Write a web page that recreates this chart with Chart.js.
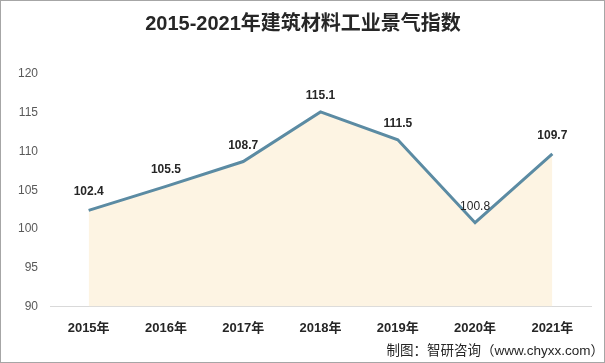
<!DOCTYPE html>
<html>
<head>
<meta charset="utf-8">
<script src="https://cdn.jsdelivr.net/npm/chart.js@4"></script>
<style>
html,body{margin:0;padding:0;background:#fff;}
#wrap{position:relative;width:605px;height:363px;box-sizing:border-box;border:1px solid #a6a6a6;}
canvas{display:block;}
</style>
</head>
<body>
<div id="wrap"><canvas id="c" width="603" height="361"></canvas></div>
<script>
const categories = ["2015年","2016年","2017年","2018年","2019年","2020年","2021年"];
const values = [102.4, 105.5, 108.7, 115.1, 111.5, 100.8, 109.7];
const yTicks = [90, 95, 100, 105, 110, 115, 120];
const titleText = "2015-2021年建筑材料工业景气指数";
const sourceText = "制图：智研咨询（www.chyxx.com）";

const FONT = '"Liberation Sans", "Noto Sans CJK SC", sans-serif';
const labelOffsets = [19, 17, 16, 16, 16, 16, 18];

const overlay = {
  id: 'overlay',
  afterDatasetsDraw(chart) {
    const ctx = chart.ctx;
    const meta = chart.getDatasetMeta(0);
    ctx.save();
    ctx.textAlign = 'center';
    ctx.textBaseline = 'middle';
    meta.data.forEach((pt, i) => {
      ctx.fillStyle = '#262626';
      ctx.font = (i === 5 ? 'normal ' : 'bold ') + '12px ' + FONT;
      ctx.fillText(values[i].toFixed(1), pt.x, pt.y - labelOffsets[i]);
    });
    ctx.restore();
  },
  afterDraw(chart) {
    const ctx = chart.ctx;
    ctx.save();
    ctx.fillStyle = '#262626';
    ctx.textAlign = 'center';
    ctx.textBaseline = 'middle';
    ctx.font = 'bold 20px ' + FONT;
    ctx.fillText(titleText, 302, 23);
    ctx.textAlign = 'right';
    ctx.font = '13.5px ' + FONT;
    ctx.fillText(sourceText, 603, 350);
    ctx.restore();
  }
};

new Chart(document.getElementById('c'), {
  type: 'line',
  data: {
    labels: categories,
    datasets: [{
      data: values,
      borderColor: '#5b8ba3',
      borderWidth: 3,
      backgroundColor: '#fdf4e3',
      fill: 'start',
      pointRadius: 0,
      tension: 0
    }]
  },
  options: {
    responsive: false,
    animation: false,
    layout: { padding: { top: 73, right: 13, bottom: 12, left: 0 } },
    plugins: { legend: { display: false }, title: { display: false }, tooltip: { enabled: false } },
    scales: {
      x: {
        offset: true,
        grid: { display: false, drawTicks: false },
        border: { display: true, color: '#d9d9d9', width: 1 },
        ticks: { color: '#262626', font: { family: FONT, size: 13, weight: 'bold' }, padding: 14, maxRotation: 0 }
      },
      y: {
        min: 90, max: 120,
        afterFit(s) { s.width = 49; },
        afterBuildTicks(s) { s.ticks = yTicks.map(v => ({ value: v })); },
        grid: { display: false, drawTicks: false },
        border: { display: false },
        ticks: { color: '#595959', font: { family: FONT, size: 12 }, padding: 12 }
      }
    }
  },
  plugins: [overlay]
});
</script>
</body>
</html>
